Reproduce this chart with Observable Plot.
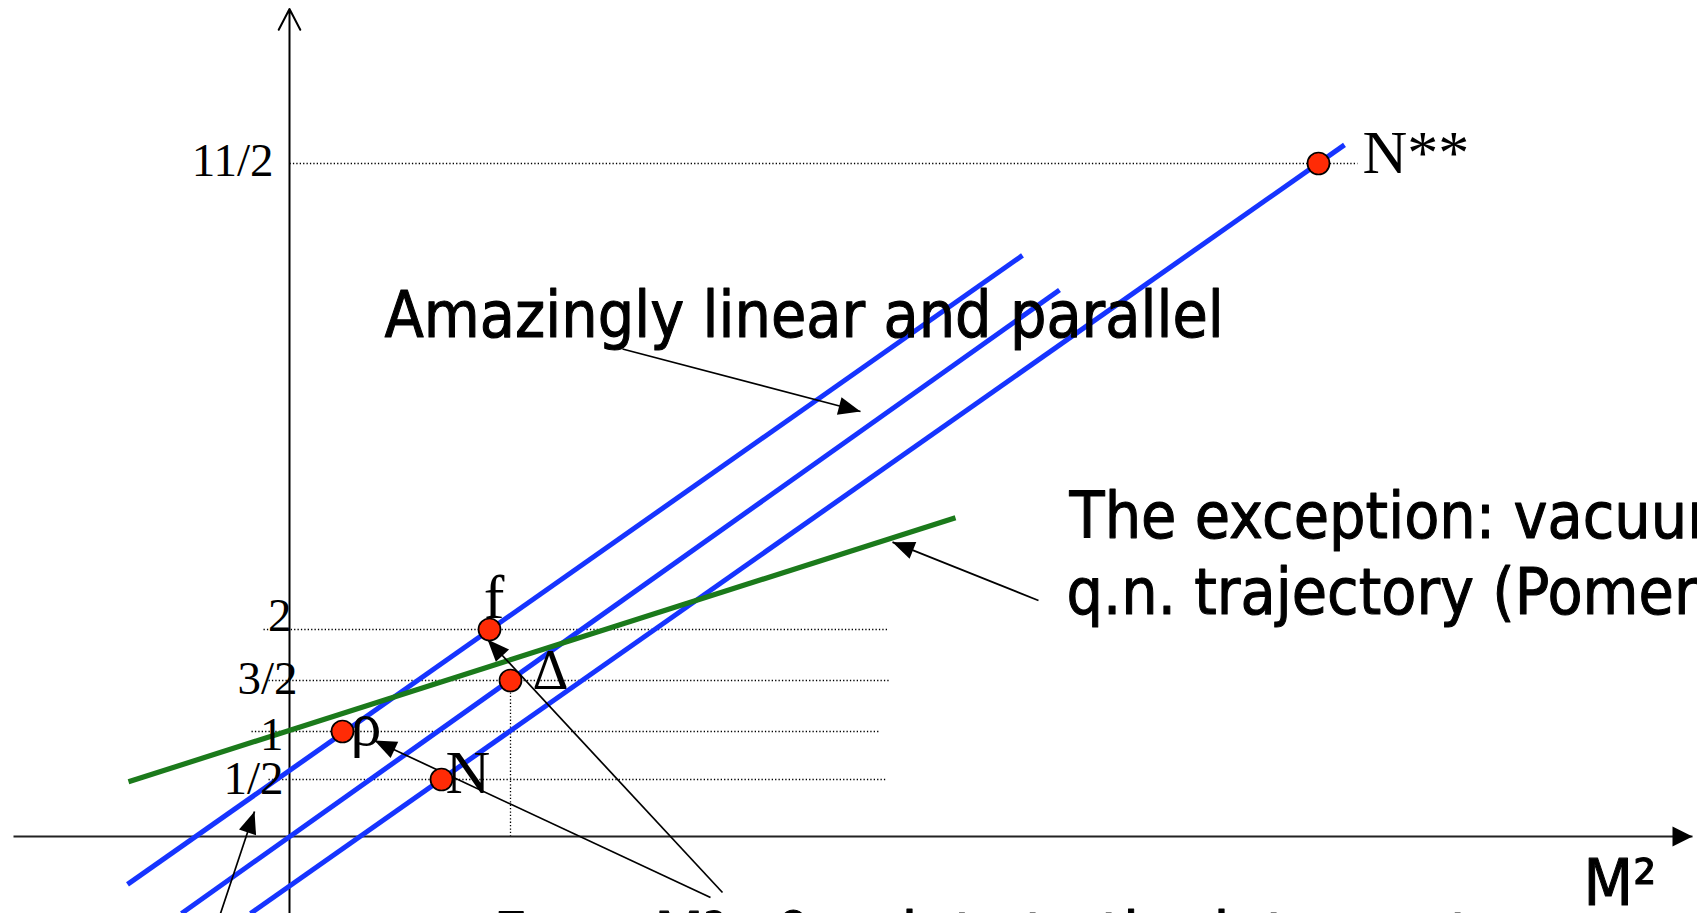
<!DOCTYPE html>
<html>
<head>
<meta charset="utf-8">
<script src="https://cdn.jsdelivr.net/npm/d3@7"></script>
<script src="https://cdn.jsdelivr.net/npm/@observablehq/plot@0.6"></script>
<style>
  html, body { margin: 0; padding: 0; background: #fff; overflow: hidden; }
  #chart svg { display: block; overflow: hidden !important; }
</style>
</head>
<body>
<div id="chart"></div>
<script>
// Regge trajectories: spin J against squared mass M² (schematic units)

// Resonances sitting on the trajectories
const particleNames = ["ρ", "N", "f", "Δ", "N**"];
const particleM2 = [0.53, 1.52, 2.00, 2.21, 10.29];
const particleJ = [1, 0.5, 2, 1.5, 5.5];

// Spin values marked on the vertical axis, with their dotted guides
const spinTicks = [0.5, 1, 1.5, 2, 5.5];
const spinTickLabels = ["1/2", "1", "3/2", "2", "11/2"];
const guideFromM2 = [-0.21, -0.38, -0.21, -0.26, 0];
const guideToM2 = [5.97, 5.89, 6.01, 5.98, 10.68];

// The three parallel trajectories (end points)
const trajectoryNames = ["ρ–f", "Δ", "N"];
const trajectoryM2Start = [-1.62, -1.08, -0.39];
const trajectoryJStart = [-0.42, -0.675, -0.675];
const trajectoryM2End = [7.33, 7.70, 10.55];
const trajectoryJEnd = [4.81, 4.55, 5.64];

// Vacuum quantum-number (Pomeron) trajectory
const pomeronM2 = [-1.61, 6.66];
const pomeronJ = [0.48, 2.84];

// Coordinate axes
const axisM2 = [-2.76, 14.03];
const axisJ = [-0.7, 6.66];

// Annotations and their pointers
const noteTexts = ["Amazingly linear and parallel", "The exception: vacuum", "q.n. trajectory (Pomeron)", "From M²=0 points to the intercept"];
const noteM2 = [0.95, 7.80, 7.77, 2.04];
const noteJ = [4.20, 2.69, 2.12, -1.07];
const pointerFromM2 = [3.33, 7.49, 4.33, 4.21, -0.69];
const pointerFromJ = [4.107, 2.218, -0.491, -0.535, -0.675];
const pointerToM2 = [5.71, 6.03, 1.98, 0.85, -0.35];
const pointerToJ = [3.637, 2.656, 1.902, 0.906, 0.219];

// ---- scales (piecewise in J: the spin axis is not drawn to scale) ----
const X_DOMAIN = [0, 10], X_RANGE = [289, 1289];
const Y_DOMAIN = [0, 0.5, 1, 1.5, 2, 5.5], Y_RANGE = [836, 779, 731, 680, 629, 163];
const px = d3.scaleLinear(X_DOMAIN, X_RANGE);
const py = d3.scaleLinear(Y_DOMAIN, Y_RANGE);

// filled triangular arrowhead, tip at the origin, pointing up
function arrowHead(length, halfWidth) {
  return {draw(ctx) { ctx.moveTo(0, 0); ctx.lineTo(halfWidth, length); ctx.lineTo(-halfWidth, length); ctx.closePath(); }};
}
const heading = (x1, y1, x2, y2) => Math.atan2(px(x2) - px(x1), py(y1) - py(y2)) * 180 / Math.PI;

const serif = "Liberation Serif, Times New Roman, serif";
const hand = "DejaVu Sans, sans-serif";
const BLUE = "#1634ff", GREEN = "#1b7a1b", RED = "#ff2b06";

const tickLayout = {
  "1/2": {dx: -6, dy: 14}, "1": {dx: -6, dy: 18}, "3/2": {dx: 8, dy: 13},
  "2": {dx: 2, dy: 1}, "11/2": {dx: -16, dy: 12}
};
const particleLayout = {
  "ρ": {anchor: "start", dx: 8, dy: 13, size: 62},
  "N": {anchor: "start", dx: 4, dy: 13, size: 62},
  "f": {anchor: "middle", dx: 4.5, dy: -12, size: 62},
  "Δ": {anchor: "start", dx: 22, dy: 8, size: 56},
  "N**": {anchor: "start", dx: 44, dy: 9, size: 62}
};

const nTraj = trajectoryNames.length;
const nPtr = pointerFromM2.length;

const marks = [
  // dotted spin guides
  Plot.link(d3.range(spinTicks.length), {
    x1: i => guideFromM2[i], x2: i => guideToM2[i],
    y1: i => spinTicks[i], y2: i => spinTicks[i],
    stroke: "black", strokeWidth: 1.3, strokeDasharray: "1.3,2.1"
  }),
  // dotted drop line from Δ
  Plot.link([3], {
    x1: i => particleM2[i], x2: i => particleM2[i], y1: () => 0, y2: i => particleJ[i],
    stroke: "black", strokeWidth: 1.3, strokeDasharray: "1.3,2.1"
  }),
  // horizontal M² axis with filled head
  Plot.link([0], {
    x1: () => axisM2[0], x2: () => axisM2[1], y1: () => 0, y2: () => 0,
    stroke: "#222", strokeWidth: 2.2
  }),
  Plot.dot([0], {
    x: () => axisM2[1], y: () => 0,
    symbol: arrowHead(20, 10), fill: "black", stroke: "none",
    rotate: () => heading(axisM2[0], 0, axisM2[1], 0)
  }),
  // vertical J axis with open head
  Plot.arrow([0], {
    x1: () => 0, x2: () => 0, y1: () => axisJ[0], y2: () => axisJ[1],
    stroke: "black", strokeWidth: 2, headAngle: 55, headLength: 17.5
  }),
  // parallel trajectories
  Plot.link(d3.range(nTraj), {
    x1: i => trajectoryM2Start[i], y1: i => trajectoryJStart[i],
    x2: i => trajectoryM2End[i], y2: i => trajectoryJEnd[i],
    stroke: BLUE, strokeWidth: 5, strokeLinecap: "butt"
  }),
  // Pomeron trajectory
  Plot.line(d3.range(pomeronM2.length), {
    x: i => pomeronM2[i], y: i => pomeronJ[i],
    stroke: GREEN, strokeWidth: 5.2, strokeLinecap: "butt"
  }),
  // annotation pointers
  Plot.link(d3.range(nPtr), {
    x1: i => pointerFromM2[i], y1: i => pointerFromJ[i],
    x2: i => pointerToM2[i], y2: i => pointerToJ[i],
    stroke: "black", strokeWidth: 1.7
  }),
  Plot.dot(d3.range(nPtr), {
    x: i => pointerToM2[i], y: i => pointerToJ[i],
    symbol: arrowHead(22, 9), fill: "black", stroke: "none",
    rotate: i => heading(pointerFromM2[i], pointerFromJ[i], pointerToM2[i], pointerToJ[i])
  }),
  // spin tick labels
  ...spinTickLabels.map((label, i) => Plot.text([i], {
    x: () => 0, y: j => spinTicks[j], text: j => spinTickLabels[j],
    textAnchor: "end", lineAnchor: "bottom",
    dx: tickLayout[label].dx, dy: tickLayout[label].dy,
    fontFamily: serif, fontSize: 47, fill: "black"
  })),
  // particle labels
  ...particleNames.map((name, i) => Plot.text([i], {
    x: j => particleM2[j], y: j => particleJ[j], text: j => particleNames[j],
    textAnchor: particleLayout[name].anchor, lineAnchor: "bottom",
    dx: particleLayout[name].dx, dy: particleLayout[name].dy,
    fontFamily: serif, fontSize: particleLayout[name].size, fill: "black"
  })),
  // hand-written notes
  Plot.text(d3.range(noteTexts.length), {
    x: i => noteM2[i], y: i => noteJ[i], text: i => noteTexts[i],
    textAnchor: "start", lineAnchor: "bottom",
    fontFamily: hand, fontSize: 64, fill: "black",
    stroke: "black", strokeWidth: 1.1
  }),
  // axis title
  Plot.text([0], {
    x: () => 12.94, y: () => -0.605, text: () => "M²",
    textAnchor: "start", lineAnchor: "bottom",
    fontFamily: hand, fontSize: 64, fill: "black",
    stroke: "black", strokeWidth: 1.1
  }),
  // resonances
  Plot.dot(d3.range(particleNames.length), {
    x: i => particleM2[i], y: i => particleJ[i],
    r: 11, fill: RED, stroke: "black", strokeWidth: 1.7
  })
];

const chart = Plot.plot({
  width: 1697,
  height: 913,
  margin: 0,
  x: {type: "linear", domain: X_DOMAIN, range: X_RANGE, axis: null},
  y: {type: "linear", domain: Y_DOMAIN, range: Y_RANGE, axis: null},
  style: {background: "white", overflow: "hidden"},
  marks
});

document.getElementById("chart").appendChild(chart);

// narrow the sans face so the handwritten notes take their natural width
const handTexts = new Set([...noteTexts, "M²"]);
d3.select(chart).selectAll("text").each(function () {
  if (handTexts.has(this.textContent)) {
    const w = this.getComputedTextLength();
    this.setAttribute("textLength", (w * 57.5 / 64).toFixed(1));
    this.setAttribute("lengthAdjust", "spacingAndGlyphs");
  }
});
</script>
</body>
</html>
